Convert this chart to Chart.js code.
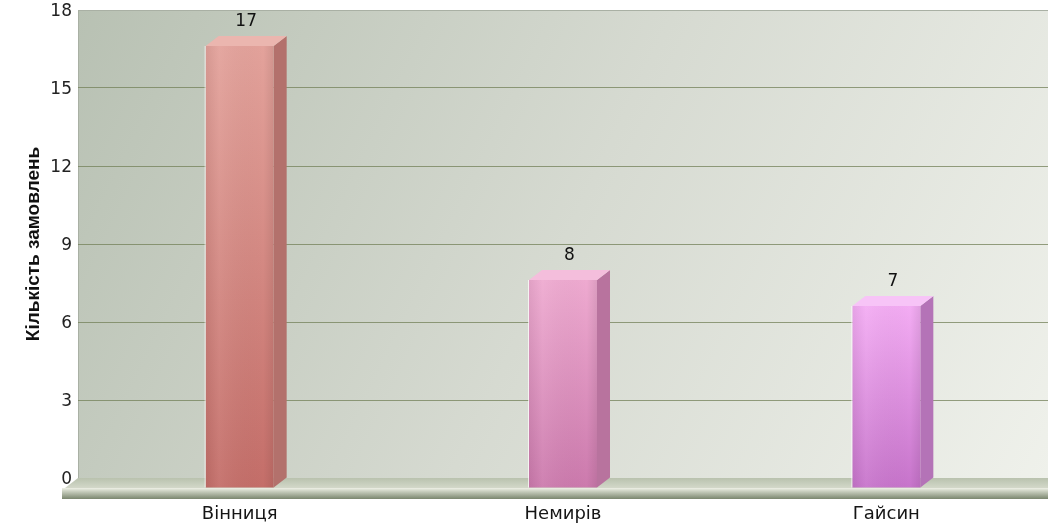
<!DOCTYPE html>
<html>
<head>
<meta charset="utf-8">
<script src="https://cdn.jsdelivr.net/npm/chart.js@4/dist/chart.umd.min.js"></script>
<style>
  html, body { margin: 0; padding: 0; background: #ffffff; }
  #wrap { width: 1048px; height: 523px; }
</style>
</head>
<body>
<div id="wrap"><canvas id="c" width="1048" height="523"></canvas></div>
<script>
const categories = ['Вінниця', 'Немирів', 'Гайсин'];
const orders = [17, 8, 7];
const yMin = 0, yMax = 18, yStep = 3;
const yTitle = 'Кількість замовлень';
const frontColors = [['#e3a29b', '#c46e69'], ['#eeaad0', '#cc7aad'], ['#f3acf3', '#c774cb']];
const sideColors = ['#b3716c', '#b8739e', '#b473b7'];
const topColors = ['#ebb6af', '#f4bedc', '#f7c4f7'];

const DX = 13, DY = 10;

const bg3d = {
  id: 'bg3d',
  beforeDraw(chart) {
    const { ctx, chartArea: a } = chart;
    ctx.save();
    const g = ctx.createLinearGradient(a.left, a.top, a.right, a.bottom);
    g.addColorStop(0, '#b8c1b3');
    g.addColorStop(0.5, '#d6dad1');
    g.addColorStop(1, '#eff1eb');
    ctx.fillStyle = g;
    ctx.fillRect(a.left, a.top, a.right - a.left, a.bottom - a.top);
    ctx.strokeStyle = '#a9b0a4';
    ctx.lineWidth = 1;
    ctx.beginPath();
    ctx.moveTo(a.left + 0.5, a.bottom);
    ctx.lineTo(a.left + 0.5, a.top + 0.5);
    ctx.stroke();
    ctx.restore();
  },
  beforeDatasetsDraw(chart) {
    const { ctx, chartArea: a } = chart;
    ctx.save();
    const gt = ctx.createLinearGradient(0, a.bottom, 0, a.bottom + DY);
    gt.addColorStop(0, '#b9c2ae');
    gt.addColorStop(1, '#d3d8c9');
    ctx.fillStyle = gt;
    ctx.beginPath();
    ctx.moveTo(a.left, a.bottom);
    ctx.lineTo(a.right, a.bottom);
    ctx.lineTo(a.right, a.bottom + DY);
    ctx.lineTo(a.left - DX, a.bottom + DY);
    ctx.closePath();
    ctx.fill();
    const gf = ctx.createLinearGradient(0, a.bottom + DY, 0, a.bottom + DY + 11);
    gf.addColorStop(0, '#eef0e6');
    gf.addColorStop(0.3, '#c9cfbf');
    gf.addColorStop(1, '#7a866e');
    ctx.fillStyle = gf;
    ctx.fillRect(a.left - DX - 3, a.bottom + DY, a.right - a.left + DX + 3, 11);
    ctx.restore();
  },
  afterDatasetsDraw(chart) {
    const { ctx } = chart;
    const meta = chart.getDatasetMeta(0);
    ctx.save();
    meta.data.forEach((el, i) => {
      const p = el.getProps(['x', 'y', 'base', 'width'], true);
      const L = p.x - p.width / 2, R = p.x + p.width / 2;
      const T = p.y + DY, B = p.base + DY;
      ctx.fillStyle = sideColors[i];
      ctx.beginPath();
      ctx.moveTo(R, T);
      ctx.lineTo(R + DX, T - DY);
      ctx.lineTo(R + DX, p.base);
      ctx.lineTo(R, B);
      ctx.closePath();
      ctx.fill();
      ctx.fillStyle = topColors[i];
      ctx.beginPath();
      ctx.moveTo(L, T);
      ctx.lineTo(R, T);
      ctx.lineTo(R + DX, T - DY);
      ctx.lineTo(L + DX, T - DY);
      ctx.closePath();
      ctx.fill();
      const gfr = ctx.createLinearGradient(0, T, 0, B);
      gfr.addColorStop(0, frontColors[i][0]);
      gfr.addColorStop(1, frontColors[i][1]);
      ctx.fillStyle = gfr;
      ctx.fillRect(L, T, R - L, B - T);
      const gh = ctx.createLinearGradient(L, 0, R, 0);
      gh.addColorStop(0, 'rgba(0,0,0,0.06)');
      gh.addColorStop(0.2, 'rgba(255,255,255,0.06)');
      gh.addColorStop(0.85, 'rgba(0,0,0,0)');
      gh.addColorStop(1, 'rgba(0,0,0,0.08)');
      ctx.fillStyle = gh;
      ctx.fillRect(L, T, R - L, B - T);
      ctx.strokeStyle = 'rgba(255,255,255,0.7)';
      ctx.lineWidth = 1;
      ctx.beginPath();
      ctx.moveTo(L - 0.5, B);
      ctx.lineTo(L - 0.5, T);
      ctx.stroke();
      ctx.fillStyle = '#111111';
      ctx.font = '17px "DejaVu Sans", Verdana, sans-serif';
      ctx.textAlign = 'center';
      ctx.textBaseline = 'middle';
      ctx.fillText(String(orders[i]), p.x + DX / 2, p.y - 14);
    });
    ctx.restore();
  }
};

new Chart(document.getElementById('c'), {
  type: 'bar',
  data: {
    labels: categories,
    datasets: [{
      data: orders,
      backgroundColor: 'rgba(0,0,0,0)',
      borderWidth: 0,
      barThickness: 68
    }]
  },
  options: {
    responsive: false,
    animation: false,
    events: [],
    layout: { padding: { top: 10, left: 0, right: 0, bottom: 0 } },
    plugins: { legend: { display: false }, tooltip: { enabled: false } },
    scales: {
      x: {
        grid: { display: false, drawTicks: false },
        border: { display: false },
        ticks: {
          padding: 26,
          color: '#151515',
          font: { family: '"DejaVu Sans", Verdana, sans-serif', size: 18 }
        },
        afterFit(s) { s.height = 45; s.paddingLeft = 0; s.paddingRight = 0; }
      },
      y: {
        min: yMin, max: yMax,
        ticks: {
          stepSize: yStep,
          padding: 6,
          labelOffset: 2,
          color: '#222222',
          font: { family: '"DejaVu Sans", Verdana, sans-serif', size: 17 }
        },
        grid: {
          color: (c) => (c.tick && c.tick.value === yMax) ? '#a9b0a4' : 'rgba(115,128,88,0.75)',
          drawTicks: false,
          lineWidth: 1
        },
        border: { display: false },
        title: {
          display: true,
          text: yTitle,
          color: '#111',
          padding: { top: 22, bottom: 0 },
          font: { family: '"Liberation Sans", Arial, sans-serif', size: 19, weight: 'bold' }
        },
        afterFit(s) { s.width = 78; s.paddingTop = 0; s.paddingBottom = 0; }
      }
    }
  },
  plugins: [bg3d]
});
</script>
</body>
</html>
